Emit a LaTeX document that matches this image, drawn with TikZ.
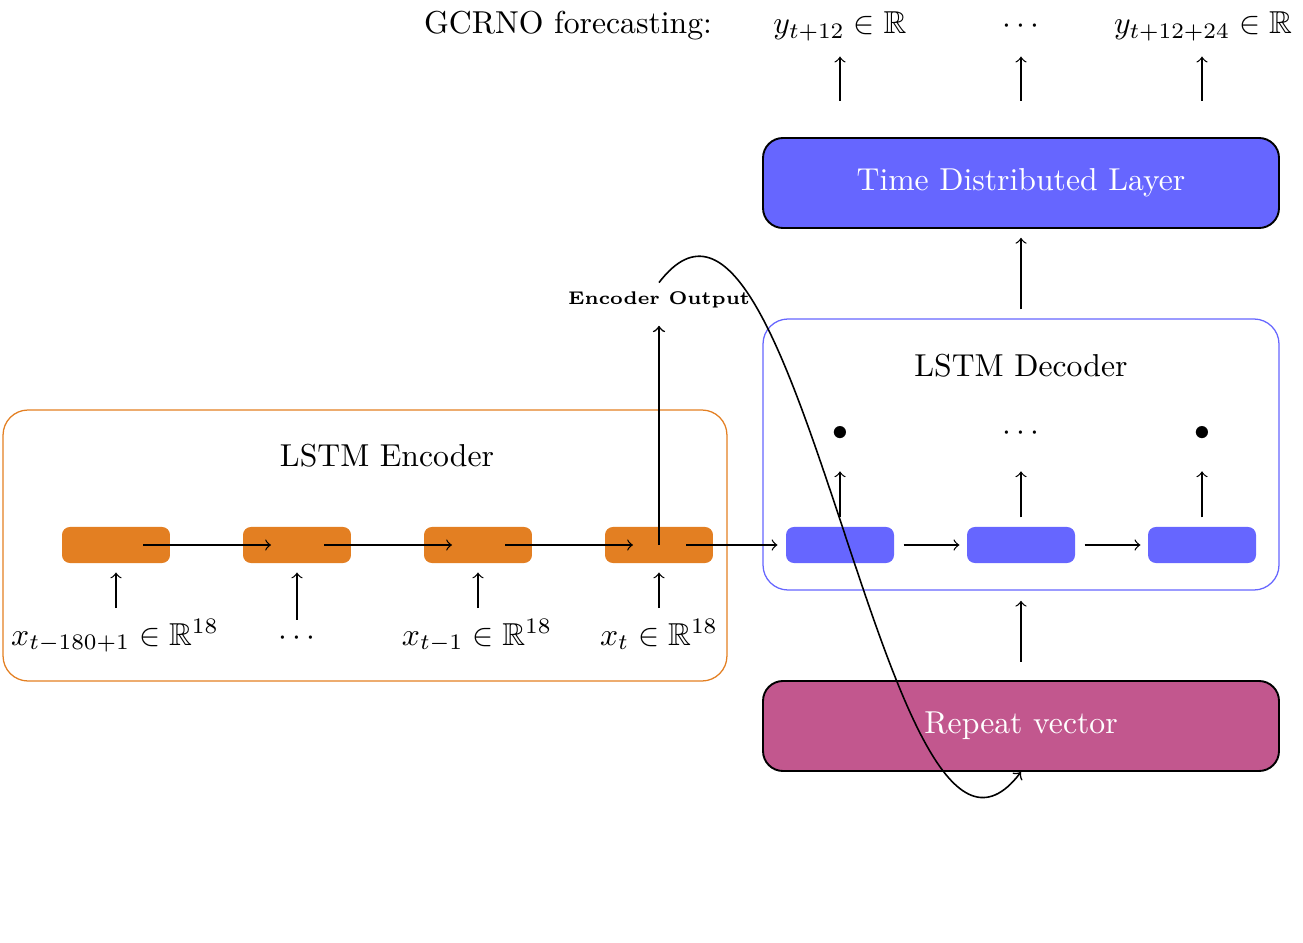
\documentclass[tikz,border=0pt]{standalone}
\usepackage{amssymb}
\usetikzlibrary{calc}
\definecolor{encorange}{HTML}{E37F22}
\definecolor{cellblue}{HTML}{6666FF}
\definecolor{repcol}{HTML}{C2578E}
\begin{document}
\begin{tikzpicture}[x=0.3155pt,y=-0.3155pt,
  arr/.style={->, line width=0.4pt},
  enccell/.style={fill=encorange, rounded corners=2.5pt, minimum width=34.07pt, minimum height=11.36pt, inner sep=0pt},
  deccell/.style={fill=cellblue, rounded corners=2.5pt, minimum width=34.07pt, minimum height=11.36pt, inner sep=0pt},
  framebox/.style={rounded corners=7.9pt, minimum height=85.5pt, inner sep=0pt, line width=0.4pt},
  layerbox/.style={draw=black, rounded corners=6.3pt, minimum width=162.8pt, minimum height=28.4pt, text=white, line width=0.6pt, inner sep=0pt},
  lab/.style={anchor=base, inner sep=3.33pt},
  toplab/.style={anchor=base, inner sep=3.33pt, text depth=2.1pt}
]
\useasboundingbox (0,0) rectangle (1303,943);

% ---------- Encoder ----------
\node[framebox, draw=encorange, minimum width=228.4pt] (encbox) at (365,545.5) {};
\node (enct) at (387,456) {LSTM Encoder};
\node[enccell] (e1) at (116,545) {};
\node[enccell] (e2) at (297,545) {};
\node[enccell] (e3) at (478,545) {};
\node[enccell] (e4) at (659,545) {};

\node[lab] (x1) at (115,645) {$x_{t-180+1}\in\mathbb{R}^{18}$};
\node[lab] (x2) at (297,645) {$\cdots$};
\node[lab] (x3) at (477,645) {$x_{t-1}\in\mathbb{R}^{18}$};
\node[lab] (x4) at (659,645) {$x_t\in\mathbb{R}^{18}$};

\foreach \c/\l in {e1/x1,e2/x2,e3/x3,e4/x4}
  \draw[arr, shorten >=2.8pt] (\c.south |- \l.north) -- (\c.south);

% ---------- Decoder ----------
\node[framebox, draw=cellblue, minimum width=162.8pt] (decbox) at (1021,454.5) {};
\node (dect) at (1021,366) {LSTM Decoder};
\node[deccell] (d1) at (840,545) {};
\node[deccell] (d2) at (1021,545) {};
\node[deccell] (d3) at (1202,545) {};

\node[lab] (o1) at (840,440) {$\bullet$};
\node[lab] (o2) at (1021,440) {$\cdots$};
\node[lab] (o3) at (1202,440) {$\bullet$};

\foreach \c/\o in {d1/o1,d2/o2,d3/o3}
  \draw[arr, shorten <=2.8pt] (\c.north) -- ($(\c.north)+(0,-55)$);

% encoder chain
\draw[arr] ($(e1.center)+(27,0)$) -- ($(e2.center)+(-26,0)$);
\draw[arr] ($(e2.center)+(27,0)$) -- ($(e3.center)+(-26,0)$);
\draw[arr] ($(e3.center)+(27,0)$) -- ($(e4.center)+(-26,0)$);
\draw[arr, shorten >=2.5pt] ($(e4.center)+(27,0)$) -- (d1.west);
% decoder chain
\draw[arr, shorten <=2.8pt, shorten >=2.2pt] (d1.east) -- (d2.west);
\draw[arr, shorten <=2.8pt, shorten >=2.2pt] (d2.east) -- (d3.west);

% ---------- Layers ----------
\node[layerbox, fill=cellblue] (tdl) at (1021,183) {Time Distributed Layer};
\node[layerbox, fill=repcol] (rv) at (1021,726) {Repeat vector};

\draw[arr, shorten <=2.8pt, shorten >=2.8pt] (decbox.north) -- (tdl.south);
\draw[arr, shorten <=5.7pt, shorten >=3.2pt] (rv.north) -- (decbox.south);

% ---------- Encoder output ----------
\node[font=\fontsize{5.8pt}{7pt}\selectfont\bfseries] (eo) at (659,300) {Encoder Output};
\draw[arr, line width=0.5pt, shorten >=2pt] (e4.center) -- (eo.south);
\draw[arr, line width=0.5pt] ($(eo.north)+(0,2)$) .. controls (800,98) and (885,950) .. (rv.south);

% ---------- Forecast outputs ----------
\node[toplab] (gc) at (568,34) {GCRNO forecasting:};
\node[toplab] (y1) at (840,34) {$y_{t+12}\in\mathbb{R}$};
\node[toplab] (y2) at (1021,34) {$\cdots$};
\node[toplab] (y3) at (1203,34) {$y_{t+12+24}\in\mathbb{R}$};
\coordinate (c1) at (840,101);
\coordinate (c2) at (1021,101);
\coordinate (c3) at (1202,101);
\draw[arr, shorten >=1.5pt] (c1) -- (c1 |- y1.south);
\draw[arr, shorten >=1.5pt] (c2) -- (c2 |- y1.south);
\draw[arr, shorten >=1.5pt] (c3) -- (c3 |- y1.south);
\end{tikzpicture}
\end{document}
